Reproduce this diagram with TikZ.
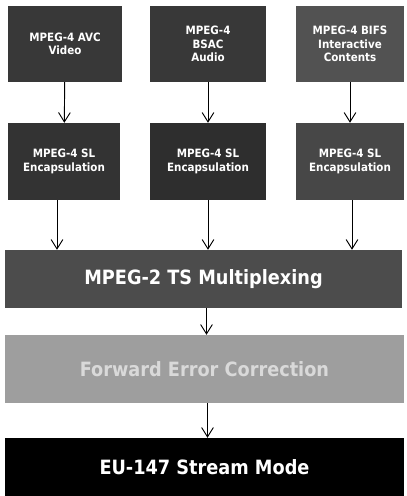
\documentclass[tikz,border=0pt]{standalone}
\usepackage{fontspec}
\setmainfont{DejaVu Sans Condensed}
\usetikzlibrary{arrows.meta}

\tikzset{
    blk/.style={fill=#1, text=white, font=\bfseries, inner sep=0pt},
    smallblk/.style={blk=#1, minimum height=76*0.03cm, align=center,
        font=\fontsize{9.8}{11.5}\selectfont\bfseries},
    wideblk/.style={blk=#1, font=\fontsize{16.8}{19}\selectfont\bfseries},
    flow/.style={-{Straight Barb[length=8pt,width=10pt]}, thick},
}

\begin{document}
\begin{tikzpicture}[x=0.03cm, y=-0.03cm]
    \useasboundingbox (0,0) rectangle (406,496);
    % sources
    \node[smallblk=black!78, minimum width=114*0.03cm] (avc) at (65,44) {MPEG-4 AVC\\Video};
    \node[smallblk=black!78, minimum width=116*0.03cm] (bsac) at (208,44) {MPEG-4\\BSAC\\Audio};
    \node[smallblk=black!68, minimum width=108*0.03cm] (bifs) at (350,44) {MPEG-4 BIFS\\Interactive\\Contents};
    % sync layer
    \node[smallblk=black!80, minimum width=112*0.03cm, minimum height=77*0.03cm] (sl1) at (64,161.5) {MPEG-4 SL\\Encapsulation};
    \node[smallblk=black!82, minimum width=116*0.03cm, minimum height=77*0.03cm] (sl2) at (208,161.5) {MPEG-4 SL\\Encapsulation};
    \node[smallblk=black!72, minimum width=108*0.03cm, minimum height=77*0.03cm] (sl3) at (350,161.5) {MPEG-4 SL\\Encapsulation};
    % transport chain
    \node[wideblk=black!70, minimum width=397*0.03cm, minimum height=58*0.03cm] (mux) at (203.5,279) {MPEG-2 TS Multiplexing};
    \node[wideblk=black!38, text=black!15, minimum width=399*0.03cm, minimum height=68*0.03cm] (fec) at (204.5,369) {Forward Error Correction};
    \node[wideblk=black, minimum width=399*0.03cm, minimum height=58*0.03cm] (eu) at (204.5,467) {EU-147 Stream Mode};

    \draw[flow] (avc) -- (sl1);
    \draw[flow] (bsac) -- (sl2);
    \draw[flow] (bifs) -- (sl3);
    \draw[flow] ([xshift=-7*0.03cm]sl1.south) -- ([xshift=-7*0.03cm]sl1.south |- mux.north);
    \draw[flow] (sl2.south) -- (sl2.south |- mux.north);
    \draw[flow] ([xshift=2*0.03cm]sl3.south) -- ([xshift=2*0.03cm]sl3.south |- mux.north);
    \draw[flow] ([xshift=3*0.03cm]mux.south) -- ([xshift=3*0.03cm]mux.south |- fec.north);
    \draw[flow] ([xshift=3*0.03cm]fec.south) -- ([xshift=3*0.03cm]fec.south |- eu.north);
\end{tikzpicture}
\end{document}
